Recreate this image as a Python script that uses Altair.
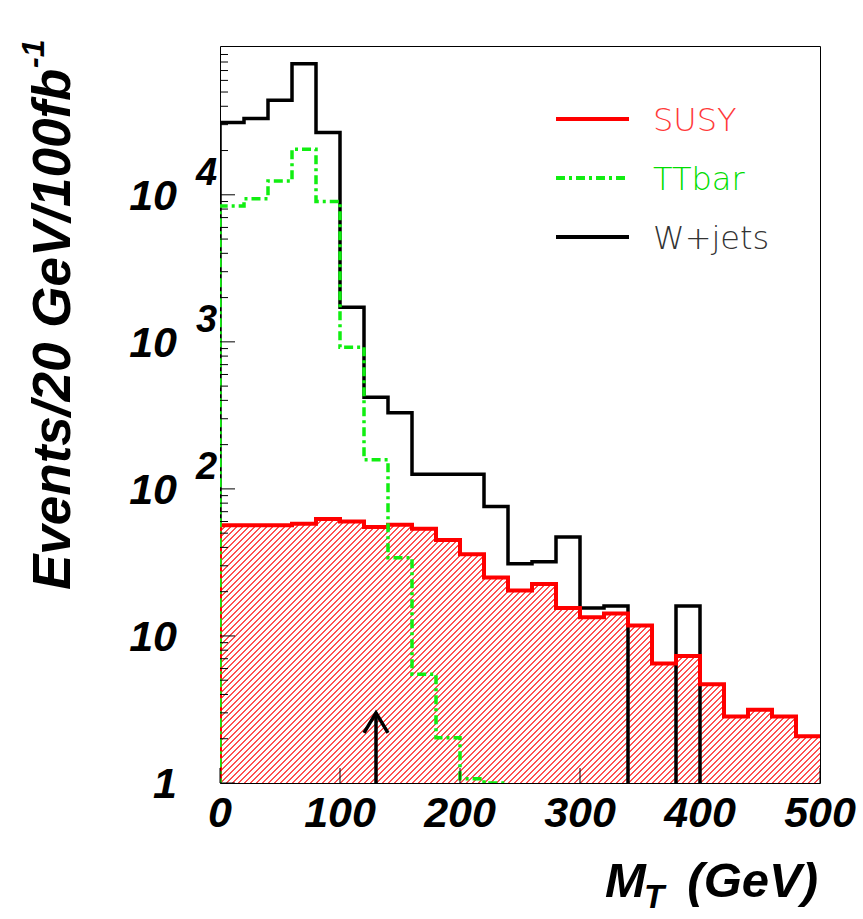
import math
import altair as alt
import pandas as pd

# ---------------- data ----------------
bin_low = [0, 20, 40, 60, 80, 100, 120, 140, 160, 180, 200, 220, 240,
           260, 280, 300, 320, 340, 360, 380, 400, 420, 440, 460, 480]
BIN_W = 20

susy = [56.5, 56.5, 56.5, 58, 62.5, 60, 55, 57, 53.5, 45, 36, 25, 20.4,
        22.6, 15.5, 13.4, 14.2, 11.8, 6.5, 7.3, 4.7, 2.83, 3.15, 2.83, 2.08]
ttbar = [8400, 9400, 12400, 20400, 9000, 920, 158, 34, 5.5, 2.03, 1.07, 1.0]
wjets = [31000, 33000, 44000, 78000, 26500, 1720, 420, 330, 126, 126, 126,
         76, 31, 32, 47, 15.5, 16, 0, 0, 16, 0, 0, 0, 0, 0]

y_major = [1, 10, 100, 1000, 10000]
y_base = ["1", "10", "10", "10", "10"]
y_exp = ["", "", "2", "3", "4"]
y_minor = [m * 10 ** d for d in range(5) for m in range(2, 10)]
x_major = [0, 100, 200, 300, 400, 500]
x_labels = ["0", "100", "200", "300", "400", "500"]

arrow_x = [130]
arrow_tip = [3.0]

# ---------------- layout / style ----------------
W, H = 600, 737
Y_DOMAIN = [1, 1.028e5]
FLOOR = 0.5
RED = "#ff0000"
GREEN = "#11ee11"
TICK_FONT = "Liberation Sans"
TITLE_FONT = "Liberation Sans"

xs = alt.Scale(domain=[0, 500], nice=False, zero=False)
ys = alt.Scale(type="log", domain=Y_DOMAIN, nice=False)


def outline(vals, start_floor=True):
    rows = []
    if start_floor:
        rows.append((bin_low[0], FLOOR))
    for lo, v in zip(bin_low, vals):
        vv = v if v > 0 else FLOOR
        rows.append((lo, vv))
        rows.append((lo + BIN_W, vv))
    return pd.DataFrame({"x": [r[0] for r in rows], "y": [r[1] for r in rows],
                         "i": list(range(len(rows)))})


def step_line(vals, color, width, dash=None):
    kw = dict(clip=True, color=color, strokeWidth=width, strokeJoin="miter", strokeCap="butt")
    if dash:
        kw["strokeDash"] = dash
    return alt.Chart(outline(vals)).mark_line(**kw).encode(
        x=alt.X("x:Q", scale=xs, axis=None),
        y=alt.Y("y:Q", scale=ys, axis=None),
        order="i:Q",
    )


# ---------------- hatched SUSY area (diagonal hatch via gradient) ----------------
Wa = W
Ha = H * math.log10(max(susy) / Y_DOMAIN[0]) / math.log10(Y_DOMAIN[1] / Y_DOMAIN[0])
kk = (Wa + Ha) / (Wa ** 2 + Ha ** 2)
HATCH_PERIOD = 6.0
HATCH_FRAC = 0.25
HATCH_COLOR = "#ff5050"
N = int(round((Wa + Ha) / HATCH_PERIOD))
stops = []
for i in range(N):
    a, b, c = i / N, (i + HATCH_FRAC) / N, (i + 1) / N
    stops += [alt.GradientStop(offset=a, color=HATCH_COLOR),
              alt.GradientStop(offset=b, color=HATCH_COLOR),
              alt.GradientStop(offset=b, color="#ffffff"),
              alt.GradientStop(offset=min(c, 1.0), color="#ffffff")]
hatch = alt.LinearGradient(gradient="linear", stops=stops, x1=0, y1=0, x2=Wa * kk, y2=Ha * kk)

area_df = pd.DataFrame({"x": bin_low + [bin_low[-1] + BIN_W], "y": susy + [susy[-1]]})
area = alt.Chart(area_df).mark_area(interpolate="step-after", color=hatch, opacity=1, clip=True).encode(
    x=alt.X("x:Q", scale=xs, axis=None),
    y=alt.Y("y:Q", scale=ys, axis=None),
    y2=alt.datum(1),
)

black = step_line(wjets, "black", 3.5)
red = step_line(susy, RED, 4)
green = step_line(ttbar, GREEN, 3.5, dash=[9, 4, 3, 4])

# ---------------- ticks (inside the frame, ROOT style) ----------------
ymaj = alt.Chart(pd.DataFrame({"v": y_major})).mark_rule(color="black", strokeWidth=1).encode(
    y=alt.Y("v:Q", scale=ys, axis=None), x=alt.value(0), x2=alt.value(15))
ymin = alt.Chart(pd.DataFrame({"v": y_minor})).mark_rule(color="black", strokeWidth=1).encode(
    y=alt.Y("v:Q", scale=ys, axis=None), x=alt.value(0), x2=alt.value(8))
xmaj = alt.Chart(pd.DataFrame({"v": x_major})).mark_rule(color="black", strokeWidth=1).encode(
    x=alt.X("v:Q", scale=xs, axis=None), y=alt.value(H), y2=alt.value(H - 15))

# ---------------- tick labels ----------------
ylab_df = pd.DataFrame({"v": y_major, "base": y_base, "exp": y_exp})
ylab = alt.Chart(ylab_df).mark_text(
    font=TICK_FONT, fontSize=43, fontWeight="bold", fontStyle="italic", align="right",
    baseline="alphabetic", dy=15, color="black").encode(
    y=alt.Y("v:Q", scale=ys, axis=None), x=alt.value(-43), text="base:N")
yexp = alt.Chart(ylab_df).mark_text(
    font=TICK_FONT, fontSize=38, fontWeight="bold", fontStyle="italic", align="left",
    baseline="alphabetic", dy=-10, color="black").encode(
    y=alt.Y("v:Q", scale=ys, axis=None), x=alt.value(-24), text="exp:N")
xlab = alt.Chart(pd.DataFrame({"v": x_major, "t": x_labels})).mark_text(
    font=TICK_FONT, fontSize=43, fontWeight="bold", fontStyle="italic", align="center",
    baseline="alphabetic", color="black").encode(
    x=alt.X("v:Q", scale=xs, axis=None), y=alt.value(781), text="t:N")

# ---------------- arrow ----------------
arr_df = pd.DataFrame({"x": arrow_x, "y0": [Y_DOMAIN[0]], "y": arrow_tip})
arrow_stem = alt.Chart(arr_df).mark_rule(color="black", strokeWidth=3.5).encode(
    x=alt.X("x:Q", scale=xs, axis=None), y=alt.Y("y0:Q", scale=ys, axis=None), y2="y:Q")
arrow_head = alt.Chart(arr_df).mark_point(
    shape="M -0.6 1 L 0 0 L 0.6 1", size=1600, filled=False, color="black",
    strokeWidth=3.5, opacity=1).encode(
    x=alt.X("x:Q", scale=xs, axis=None), y=alt.Y("y:Q", scale=ys, axis=None))

# ---------------- titles ----------------
one = pd.DataFrame({"a": [0]})


def txt(s, x, y, size, font=TITLE_FONT, weight="bold", style="italic", align="left",
        angle=0, color="black"):
    return alt.Chart(one).mark_text(
        text=s, font=font, fontSize=size, fontWeight=weight, fontStyle=style,
        align=align, baseline="alphabetic", angle=angle, color=color).encode(
        x=alt.value(x), y=alt.value(y))


ytitle = txt("Events/20 GeV/100fb", -150, 544, 53, angle=270)
ytitle_sup = txt("-1", -176, 22, 32, angle=270)
xtitle_m = txt("M", 385, 851, 49)
xtitle_t = txt("T", 424, 862, 33)
xtitle_r = txt("(GeV)", 598, 851, 49, align="right")

# ---------------- legend ----------------
legend_names = ["SUSY", "TTbar", "W+jets"]
legend_colors = [RED, GREEN, "black"]
legend_text_colors = ["#ff3a3a", "#00dd00", "#333333"]
legend_dash = [None, [9, 4, 3, 4], None]
legend_y = [73, 132, 191]
legend_layers = []
for name, col, tcol, dash, yy in zip(legend_names, legend_colors, legend_text_colors, legend_dash, legend_y):
    kw = dict(color=col, strokeWidth=4)
    if dash:
        kw["strokeDash"] = dash
    legend_layers.append(alt.Chart(one).mark_rule(**kw).encode(
        x=alt.value(336), x2=alt.value(409), y=alt.value(yy)))
    legend_layers.append(txt(name, 433, yy + 12, 32, font="DejaVu Sans", weight=200,
                             style="normal", color=tcol))

chart = alt.layer(
    area, black, red, green, ymaj, ymin, xmaj, ylab, yexp, xlab,
    arrow_stem, arrow_head, ytitle, ytitle_sup, xtitle_m, xtitle_t, xtitle_r,
    *legend_layers
).properties(
    width=W, height=H,
    padding={"left": 220, "top": 46, "right": 43, "bottom": 136},
    autosize=alt.AutoSizeParams(type="none"),
    background="white",
).configure_view(stroke="black", strokeWidth=1)

chart.save("out.html", embed_options={"renderer": "svg", "actions": False})
